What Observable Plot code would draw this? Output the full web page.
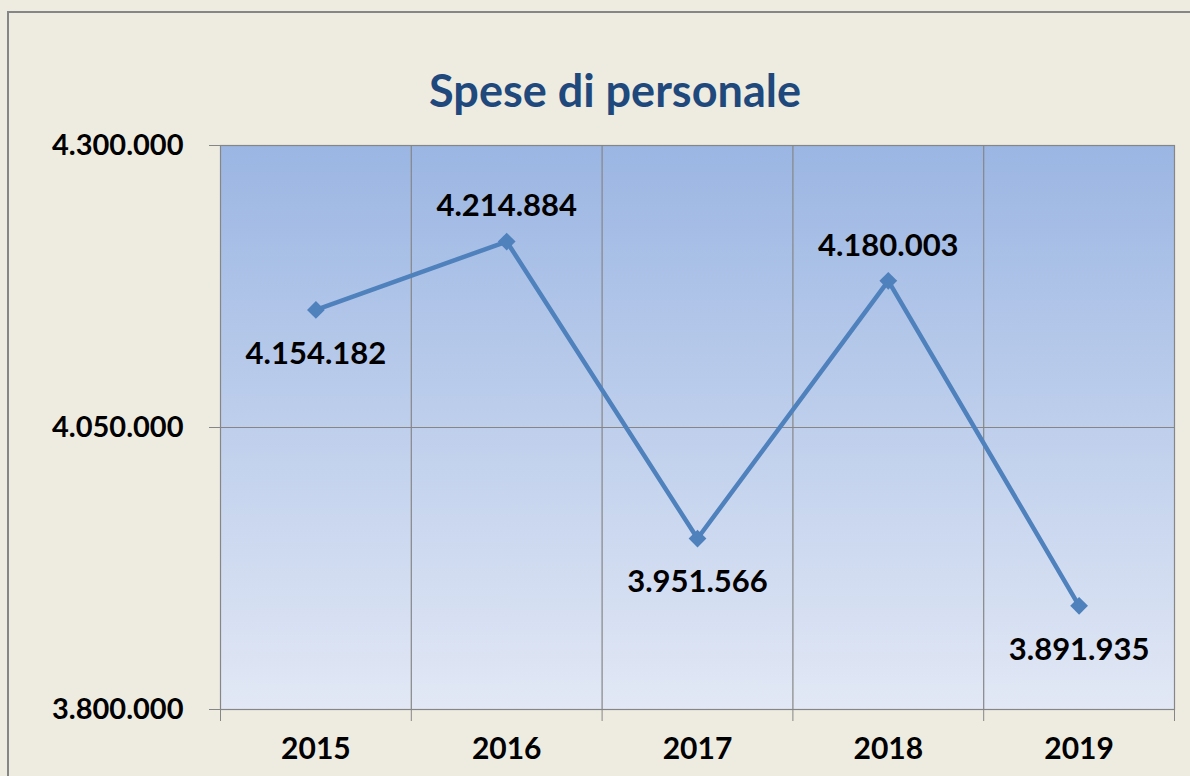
<!DOCTYPE html>
<html><head><meta charset="utf-8">
<script src="https://cdn.jsdelivr.net/npm/d3@7"></script>
<script src="https://cdn.jsdelivr.net/npm/@observablehq/plot@0.6"></script>
<style>
html,body{margin:0;padding:0;background:#EEECE1;overflow:hidden;}
#wrap{position:relative;width:1190px;height:776px;overflow:hidden;background:#EEECE1;}
#border{position:absolute;left:7px;top:11px;width:1300px;height:900px;border-left:2px solid #868686;border-top:2px solid #868686;}
#title{position:absolute;left:615px;top:68px;transform:translateX(-50%);font-family:Lato;font-weight:bold;font-size:45px;line-height:45px;color:#1F497D;white-space:nowrap;}
#chart{position:absolute;left:0;top:0;}
</style></head><body>
<div id="wrap"><div id="border"></div><div id="chart"></div><div id="title">Spese di personale</div></div>
<script>
const years = ["2015", "2016", "2017", "2018", "2019"];
const values = [4154182, 4214884, 3951566, 4180003, 3891935];
const yTicks = [3800000, 4050000, 4300000];
const yDomain = [3800000, 4300000];

const locale = d3.formatLocale({decimal: ",", thousands: ".", grouping: [3], currency: ["", "€"]});
const fmt = locale.format(",d");

const data = years.map((year, i) => ({
  year,
  pos: i + 0.5,
  value: values[i],
  peak: i > 0 && i < values.length - 1 && values[i] > values[i - 1] && values[i] > values[i + 1]
}));
const boundaries = d3.range(0, years.length + 1);
const inner = d3.range(1, years.length);
const grid = "#868686";

const chart = Plot.plot({
  width: 1190,
  height: 776,
  marginLeft: 220,
  marginRight: 16,
  marginTop: 145,
  marginBottom: 67,
  style: {background: "transparent", fontFamily: "Lato", overflow: "visible"},
  x: {type: "linear", domain: [0, years.length]},
  y: {domain: yDomain},
  marks: [
    Plot.frame({fill: "url(#bgGrad)"}),
    Plot.ruleY([4050000], {stroke: grid, strokeWidth: 1}),
    Plot.ruleX(inner, {stroke: grid, strokeWidth: 1.2}),
    Plot.frame({stroke: grid, strokeWidth: 1.2}),
    Plot.axisY({ticks: yTicks, tickSize: 11, tickPadding: 26, tickFormat: fmt, stroke: grid, fill: "black", fontSize: 29, fontWeight: "bold", label: null}),
    Plot.axisX({ticks: boundaries, tickSize: 12, stroke: grid, fill: "none", label: null}),
    Plot.text(data, {x: "pos", text: "year", frameAnchor: "bottom", dy: 49, fontSize: 30, fontWeight: "bold", fill: "black"}),
    Plot.line(data, {x: "pos", y: "value", stroke: "#4F81BD", strokeWidth: 4.5}),
    Plot.dot(data, {x: "pos", y: "value", symbol: "diamond2", r: 8, fill: "#4F81BD", stroke: "none"}),
    Plot.text(data.filter(d => d.peak), {x: "pos", y: "value", text: d => fmt(d.value), dy: -35, fontSize: 31, fontWeight: "bold", fill: "black"}),
    Plot.text(data.filter(d => !d.peak), {x: "pos", y: "value", text: d => fmt(d.value), dy: 44, fontSize: 31, fontWeight: "bold", fill: "black"})
  ]
});

const defs = d3.select(chart).insert("defs", ":first-child");
const g = defs.append("linearGradient").attr("id", "bgGrad").attr("x1", 0).attr("y1", 0).attr("x2", 0).attr("y2", 1);
g.append("stop").attr("offset", "0%").attr("stop-color", "#9BB6E3");
g.append("stop").attr("offset", "100%").attr("stop-color", "#E2E8F5");

document.getElementById("chart").appendChild(chart);
</script>
</body></html>
